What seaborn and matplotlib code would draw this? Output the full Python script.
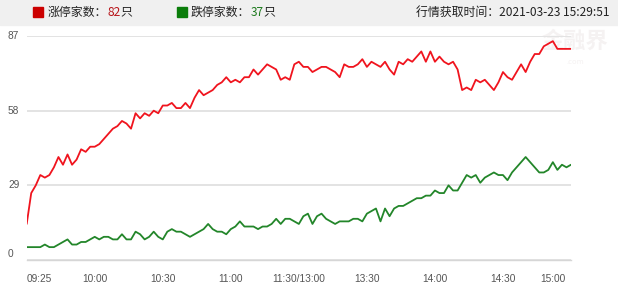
import numpy as np
import pandas as pd
import matplotlib
matplotlib.use("Agg")
import matplotlib.pyplot as plt
import seaborn as sns

# ---- data (values every 2 minutes) ----
limit_up = [14, 26, 29, 33, 32, 33, 36, 40, 37, 41, 37, 39, 43, 42, 44, 44,
            45, 47, 49, 51, 52, 54, 53, 51, 57, 55, 57, 56, 58, 57, 60,
            60, 61, 59, 59, 61, 59, 63, 66, 64, 65, 66, 68, 69, 71, 69,
            70, 69, 71, 71, 74, 72, 74, 76, 75, 74, 70, 71, 70, 76, 77,
            75, 75, 73, 74, 75, 75, 74, 73, 71, 76, 75, 75, 76, 78, 75,
            77, 76, 75, 77, 74, 72, 77, 76, 78, 77, 79, 81, 77, 81, 77,
            79, 77, 76, 77, 74, 66, 67, 66, 70, 69, 70, 68, 66, 69, 73,
            71, 70, 73, 76, 73, 77, 80, 80, 83, 84, 85, 82, 82, 82, 82]
limit_down = [5, 5, 5, 5, 6, 5, 5, 6, 7, 8, 6, 6, 7, 7, 8, 9,
              8, 9, 9, 8, 8, 10, 8, 8, 11, 10, 8, 9, 11, 9, 8,
              11, 12, 11, 11, 10, 9, 10, 11, 12, 14, 12, 11, 11, 10, 12,
              13, 15, 13, 13, 13, 12, 13, 13, 14, 16, 14, 16, 16, 15, 14,
              17, 18, 14, 17, 18, 16, 15, 14, 15, 15, 15, 16, 16, 15, 18,
              19, 20, 15, 20, 17, 20, 21, 21, 22, 23, 24, 24, 25, 25, 27,
              26, 26, 29, 27, 27, 30, 33, 32, 33, 30, 32, 33, 34, 33, 33,
              31, 34, 36, 38, 40, 38, 36, 34, 34, 35, 38, 35, 37, 36, 37]
minute_step = 2
tick_minutes = [0, 30, 60, 90, 120, 150, 180, 210, 240]
tick_labels = ["09:25", "10:00", "10:30", "11:00", "11:30/13:00",
               "13:30", "14:00", "14:30", "15:00"]
y_ticks = [0, 29, 58, 87]
up_count = 82
down_count = 37
fetch_time = "2021-03-23 15:29:51"

minutes = np.arange(len(limit_up)) * minute_step
df = pd.DataFrame({
    "minute": np.concatenate([minutes, np.arange(len(limit_down)) * minute_step]),
    "count": np.concatenate([limit_up, limit_down]),
    "series": ["up"] * len(limit_up) + ["down"] * len(limit_down),
})

sns.set_theme(style="white")
plt.rcParams["font.family"] = ["Noto Sans CJK SC", "DejaVu Sans"]

fig = plt.figure(figsize=(6.18, 2.90), dpi=100)
W, H = 618, 290

# header band
fig.patches.append(plt.Rectangle((0, 1 - 25 / H), 1, 25 / H, transform=fig.transFigure,
                                 color="#f0f0f0", zorder=0))

ax = fig.add_axes([26.7 / W, 1 - 260 / H, (571 - 26.7) / W, (260 - 36) / H])
ax.set_facecolor("none")
ax.set_zorder(2)

# watermark (behind the plot)
fig.text(575 / W, 1 - 41 / H, "金融界", fontsize=16, fontweight="bold", color="#f5f2f2",
         ha="center", va="center", zorder=-1)
fig.text(575 / W, 1 - 62 / H, ".com", fontsize=5.5, color="#f5f2f2",
         ha="center", va="center", zorder=-1)

sns.lineplot(data=df, x="minute", y="count", hue="series",
             palette={"up": "#f0141e", "down": "#23862a"}, linewidth=1.3,
             legend=False, ax=ax, zorder=3)

ax.set_xlim(0, 240)
ax.set_ylim(0, 87)
ax.set_yticks(y_ticks)
ax.set_yticklabels([])
ax.tick_params(axis="y", length=0)
ax.grid(axis="y", color="#e3e3e3", linewidth=1.4)
ax.grid(axis="x", visible=False)
for s in ["top", "right", "left"]:
    ax.spines[s].set_visible(False)
ax.spines["bottom"].set_color("#d6d6d6")
ax.spines["bottom"].set_linewidth(1.0)

ax.set_xticks(tick_minutes)
ax.set_xticklabels([])
ax.tick_params(axis="x", length=3, width=0.8, color="#cccccc", direction="out")
ax.set_xlabel("")
ax.set_ylabel("")

lab_font = dict(family=["Liberation Sans", "DejaVu Sans"], fontsize=7.3, color="#555555")
for i, (m, lab) in enumerate(zip(tick_minutes, tick_labels)):
    ha = "left" if i == 0 else ("right" if i == len(tick_labels) - 1 else "center")
    xx = m if i < len(tick_labels) - 1 else m - 2.2
    ax.text(xx, -0.085, lab, transform=ax.get_xaxis_transform(), ha=ha, va="center", **lab_font)

for v in y_ticks:
    yy = v if v > 0 else 2.5
    fig.text(8 / W, ax.transData.transform((0, yy))[1] / (H), str(v), ha="left", va="center", **lab_font)

# header legend
hy = 1 - 12 / H
fig.patches.append(plt.Rectangle((33 / W, 1 - 17 / H), 10 / W, 10 / H, transform=fig.transFigure,
                                 color="#cc0000", zorder=2))
fig.patches.append(plt.Rectangle((177 / W, 1 - 17 / H), 10 / W, 10 / H, transform=fig.transFigure,
                                 color="#0a7d0a", zorder=2))
hfont = dict(fontsize=8.6, va="center", color="#222222")
t1 = fig.text(48 / W, hy, "涨停家数：", **hfont)
fig.canvas.draw()
r = fig.canvas.get_renderer()
bb = t1.get_window_extent(r)
t2 = fig.text(bb.x1 / W, hy, str(up_count), fontsize=8.6, va="center", color="#b8161b")
bb2 = t2.get_window_extent(r)
fig.text(bb2.x1 / W, hy, "只", **hfont)

t3 = fig.text(191 / W, hy, "跌停家数：", **hfont)
bb3 = t3.get_window_extent(r)
t4 = fig.text(bb3.x1 / W, hy, str(down_count), fontsize=8.6, va="center", color="#1e7a1e")
bb4 = t4.get_window_extent(r)
fig.text(bb4.x1 / W, hy, "只", **hfont)

fig.text(610 / W, hy, "行情获取时间：" + fetch_time, ha="right", **hfont)

fig.savefig("out.png", dpi=100)
